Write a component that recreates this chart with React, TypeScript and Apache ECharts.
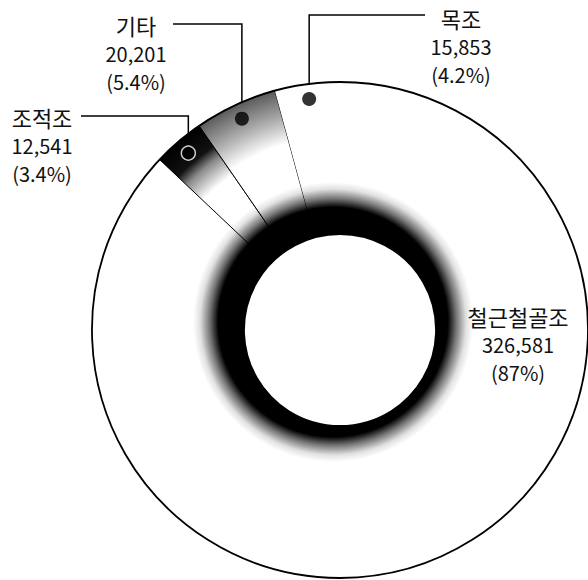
import React, { useEffect, useRef } from "react";
import * as echarts from "echarts";

// ---- data ----
const categories = ["철근철골조", "조적조", "기타", "목조"];
const values = [326581, 12541, 20201, 15853];
const percentLabels = ["87%", "3.4%", "5.4%", "4.2%"];

// ---- layout (not data) ----
const CX = 340;
const CY = 330;
const R_IN = 96;
const R_OUT = 248;
const R_DOT = 233;
const FONT = "'Noto Sans CJK KR', 'Noto Sans', sans-serif";

const labelPlace: Record<string, { x: number; y: number; lineY?: number; lineEndX?: number }> = {
  철근철골조: { x: 518, y: 344 },
  조적조: { x: 42, y: 145, lineY: 116, lineEndX: 81 },
  기타: { x: 136, y: 53, lineY: 24, lineEndX: 173 },
  목조: { x: 461, y: 46, lineY: 15, lineEndX: 425 },
};

const total = values.reduce((a, b) => a + b, 0);
const midValues: number[] = [];
{
  let cum = 0;
  values.forEach((v) => {
    midValues.push(cum + v / 2);
    cum += v;
  });
}
const dotPoint = (i: number) => {
  const a = (2 * Math.PI * midValues[i]) / total;
  return [CX + R_DOT * Math.sin(a), CY - R_DOT * Math.cos(a)];
};

export default function App() {
  const ref = useRef<HTMLDivElement>(null);
  useEffect(() => {
    if (!ref.current) return;
    const chart = echarts.init(ref.current, undefined, { renderer: "svg" });
    const G = echarts.graphic.RadialGradient as any;
    const fills: Record<string, any> = {
      철근철골조: "#ffffff",
      조적조: new G(CX, CY, R_OUT, [
        { offset: 0, color: "#ffffff" },
        { offset: 0.76, color: "#ffffff" },
        { offset: 0.85, color: "#8a8a8a" },
        { offset: 0.9, color: "#111111" },
        { offset: 1, color: "#000000" },
      ], true),
      기타: new G(CX, CY, R_OUT, [
        { offset: 0, color: "#ffffff" },
        { offset: 0.78, color: "#ffffff" },
        { offset: 0.88, color: "#b0b0b0" },
        { offset: 1, color: "#5a5a5a" },
      ], true),
      목조: "#ffffff",
    };
    const bordered: Record<string, boolean> = { 조적조: true, 기타: true };
    const shadow = new G(CX - 7, CY - 8, 140, [
      { offset: 0, color: "rgba(0,0,0,1)" },
      { offset: 0.82, color: "rgba(0,0,0,1)" },
      { offset: 0.88, color: "rgba(0,0,0,0.55)" },
      { offset: 0.95, color: "rgba(0,0,0,0.12)" },
      { offset: 1, color: "rgba(0,0,0,0)" },
    ], true);

    chart.setOption({
      animation: false,
      backgroundColor: "#ffffff",
      polar: { center: [CX, CY], radius: R_OUT },
      angleAxis: { type: "value", min: 0, max: total, startAngle: 90, clockwise: true, show: false },
      radiusAxis: { type: "value", min: 0, max: R_OUT, show: false },
      series: [
        {
          type: "pie",
          center: [CX, CY],
          radius: [R_IN, R_OUT],
          startAngle: 90,
          clockwise: true,
          avoidLabelOverlap: false,
          silent: true,
          data: categories.map((name, i) => ({
            name,
            value: values[i],
            itemStyle: {
              color: fills[name],
              borderColor: "#000",
              borderWidth: bordered[name] ? 1 : 0,
            },
            labelLine: { show: !!labelPlace[name].lineY },
          })),
          label: {
            show: true,
            position: "outside",
            formatter: (p: any) =>
              `{n|${p.name}}\n{v|${Number(p.value).toLocaleString("en-US")}}\n{v|(${percentLabels[p.dataIndex]})}`,
            fontFamily: FONT,
            color: "#111",
            align: "center",
            rich: {
              n: { fontSize: 22, lineHeight: 29, fontFamily: FONT, color: "#111", align: "center" },
              v: { fontSize: 20, lineHeight: 28, fontFamily: FONT, color: "#111", align: "center" },
            },
          },
          labelLine: { show: true, lineStyle: { color: "#000", width: 1.5 } },
          labelLayout: (params: any) => {
            const name = categories[params.dataIndex];
            const pl = labelPlace[name];
            const out: any = { x: pl.x, y: pl.y, align: "center", verticalAlign: "middle" };
            if (pl.lineY != null) {
              const [dx, dy] = dotPoint(params.dataIndex);
              out.labelLinePoints = [
                [dx, dy],
                [dx, pl.lineY],
                [pl.lineEndX, pl.lineY],
              ];
            }
            return out;
          },
        },
        {
          type: "pie",
          center: [CX, CY],
          radius: [R_IN, 160],
          silent: true,
          label: { show: false },
          labelLine: { show: false },
          itemStyle: { color: shadow, borderWidth: 0 },
          data: [{ name: "", value: total }],
        },
        {
          type: "pie",
          center: [CX, CY],
          radius: [R_IN, R_OUT],
          silent: true,
          label: { show: false },
          labelLine: { show: false },
          itemStyle: { color: "rgba(0,0,0,0)", borderColor: "#000", borderWidth: 1.8 },
          data: [{ name: "", value: total }],
        },
        {
          type: "scatter",
          coordinateSystem: "polar",
          silent: true,
          symbol: "circle",
          symbolSize: 14,
          data: categories
            .map((name, i) => ({
              name,
              value: [R_DOT, midValues[i]],
              itemStyle:
                name === "조적조"
                  ? { color: "#000", borderColor: "#fff", borderWidth: 1.5 }
                  : { color: "#000" },
            }))
            .filter((d) => labelPlace[d.name].lineY != null),
        },
      ],
    });
    return () => chart.dispose();
  }, []);
  return (
    <div
      ref={ref}
      style={{ position: "absolute", left: 0, top: 0, width: 588, height: 580, background: "#fff" }}
    />
  );
}
